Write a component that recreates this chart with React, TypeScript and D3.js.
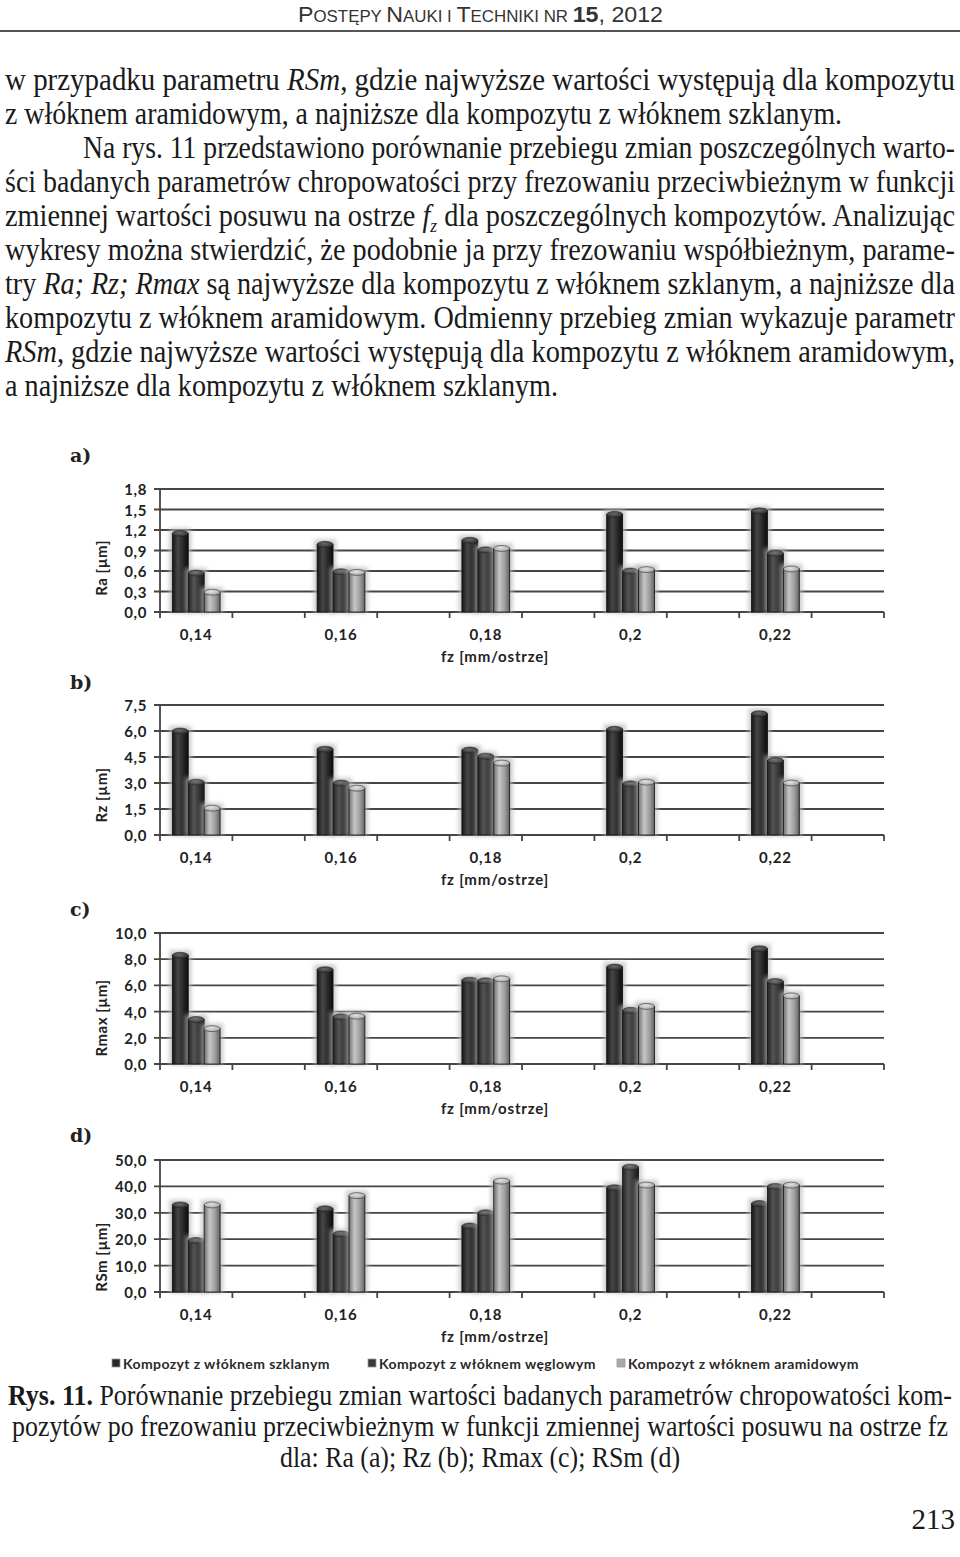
import React from "react";
import * as d3 from "d3";

const categories = ["0,14", "0,16", "0,18", "0,2", "0,22"];
const seriesNames = [
  "Kompozyt z włóknem szklanym",
  "Kompozyt z włóknem węglowym",
  "Kompozyt z włóknem aramidowym",
];

const raGlass = [1.15, 0.99, 1.05, 1.43, 1.48];
const raCarbon = [0.57, 0.59, 0.91, 0.6, 0.86];
const raAramid = [0.29, 0.58, 0.93, 0.62, 0.63];

const rzGlass = [6.0, 4.95, 4.9, 6.1, 7.0];
const rzCarbon = [3.05, 3.0, 4.55, 2.95, 4.3];
const rzAramid = [1.55, 2.7, 4.15, 3.05, 3.0];

const rmaxGlass = [8.3, 7.2, 6.4, 7.4, 8.8];
const rmaxCarbon = [3.4, 3.6, 6.35, 4.1, 6.3];
const rmaxAramid = [2.7, 3.65, 6.5, 4.4, 5.2];

const rsmGlass = [33, 31.5, 25, 39.5, 33.5];
const rsmCarbon = [19.5, 22, 30, 47.3, 40];
const rsmAramid = [33, 36.5, 42, 40.5, 40.5];

const panelTags = ["a)", "b)", "c)", "d)"];
const yTitles = ["Ra [µm]", "Rz [µm]", "Rmax [µm]", "RSm [µm]"];
const yMax = [1.8, 7.5, 10, 50];
const yStep = [0.3, 1.5, 2, 10];
const xTitle = "fz [mm/ostrze]";

const panelData = [
  [raGlass, raCarbon, raAramid],
  [rzGlass, rzCarbon, rzAramid],
  [rmaxGlass, rmaxCarbon, rmaxAramid],
  [rsmGlass, rsmCarbon, rsmAramid],
];

const fmt = (v: number) => d3.format(".1f")(v).replace(".", ",");

const layout = [
  { tagY: 462, top: 489, bottom: 612, titleY: 568 },
  { tagY: 689, top: 705, bottom: 835, titleY: 795 },
  { tagY: 916, top: 933, bottom: 1064, titleY: 1018 },
  { tagY: 1142, top: 1160, bottom: 1292, titleY: 1257 },
];

const barGrad = [
  ["#151515", "#474747", "#262626", "#0c0c0c"],
  ["#222222", "#555555", "#333333", "#181818"],
  ["#707070", "#c6c6c6", "#9c9c9c", "#626262"],
];
const capColor = ["#6a6a6a", "#787878", "#e2e2e2"];
const legendColor = ["#2a2a2a", "#3a3a3a", "#a8a8a8"];

const chartFont = "Lato, 'Open Sans', sans-serif";
const bodyFont: React.CSSProperties = {
  fontFamily: "'Liberation Serif', 'Times New Roman', serif",
  fontSize: 31,
  fill: "#1a1a1a",
};
const capFont: React.CSSProperties = { ...bodyFont, fontSize: 29 };

function Panel({ idx }: { idx: number }) {
  const L = layout[idx];
  const x0 = 160;
  const x1 = 884;
  const slots = d3.range(categories.length * 2);
  const xSlot = d3.scaleBand<number>().domain(slots).range([x0, x1]);
  const bw = xSlot.bandwidth();
  const xSer = d3
    .scaleBand<number>()
    .domain([0, 1, 2])
    .range([0.17 * bw, 0.83 * bw]);
  const y = d3.scaleLinear().domain([0, yMax[idx]]).range([L.bottom, L.top]);
  const ticks = d3.range(0, yMax[idx] + yStep[idx] / 2, yStep[idx]);
  const data = panelData[idx];
  const labelStyle: React.CSSProperties = {
    fontFamily: chartFont,
    fontWeight: 700,
    fontSize: 15,
    letterSpacing: 0.8,
    fill: "#222",
  };
  return (
    <g>
      <text
        x={70}
        y={L.tagY}
        style={{
          fontFamily: "'DejaVu Serif', 'Liberation Serif', serif",
          fontWeight: 700,
          fontSize: 19,
          fill: "#222",
        }}
      >
        {panelTags[idx]}
      </text>
      {ticks.map((t, i) => (
        <g key={i}>
          <line x1={x0 - 6} x2={x1} y1={y(t)} y2={y(t)} stroke="#454545" strokeWidth={1.8} />
          <text
            x={147}
            y={y(t)}
            textAnchor="end"
            dominantBaseline="central"
            style={{ ...labelStyle, letterSpacing: 0.6 }}
          >
            {fmt(t)}
          </text>
        </g>
      ))}
      <line x1={x0} x2={x0} y1={L.top} y2={L.bottom} stroke="#454545" strokeWidth={1.8} />
      {d3.range(slots.length + 1).map((k) => {
        const xx = x0 + k * bw;
        return (
          <line key={k} x1={xx} x2={xx} y1={L.bottom} y2={L.bottom + 6} stroke="#454545" strokeWidth={1.8} />
        );
      })}
      {categories.map((c, ci) => {
        const sx = xSlot(ci * 2)!;
        return (
          <g key={c}>
            {data.map((series, si) => {
              const v = series[ci];
              const bx = sx + xSer(si)!;
              const w = xSer.bandwidth();
              const by = y(v);
              const h = L.bottom - by;
              return (
                <g key={si}>
                  <rect
                    x={bx - 3}
                    y={by - 5}
                    width={w + 6}
                    height={h + 6}
                    fill="#b8b8b8"
                    opacity={0.75}
                    filter="url(#glow)"
                  />
                  <rect x={bx} y={by} width={w} height={h} fill={`url(#bar${si})`} stroke="#111" strokeWidth={0.8} />
                  <ellipse
                    cx={bx + w / 2}
                    cy={by}
                    rx={w / 2}
                    ry={3}
                    fill={`url(#cap${si})`}
                    stroke="#222"
                    strokeWidth={0.5}
                  />
                </g>
              );
            })}
            <text x={sx + bw / 2} y={L.bottom + 22} textAnchor="middle" dominantBaseline="central" style={labelStyle}>
              {c}
            </text>
          </g>
        );
      })}
      <text x={495} y={L.bottom + 44} textAnchor="middle" dominantBaseline="central" style={labelStyle}>
        {xTitle}
      </text>
      <text
        transform={`translate(101,${L.titleY}) rotate(-90)`}
        textAnchor="middle"
        dominantBaseline="central"
        style={{ ...labelStyle, letterSpacing: 0.5 }}
      >
        {yTitles[idx]}
      </text>
    </g>
  );
}

export default function App() {
  const legendX = [112, 368, 617];
  return (
    <svg
      width={960}
      height={1557}
      viewBox="0 0 960 1557"
      style={{ position: "absolute", left: 0, top: 0, display: "block", background: "#fff" }}
    >
      <defs>
        <filter id="glow" x="-50%" y="-20%" width="200%" height="140%">
          <feGaussianBlur stdDeviation={2} />
        </filter>
        {barGrad.map((g, i) => (
          <linearGradient key={i} id={`bar${i}`} x1="0" x2="1" y1="0" y2="0">
            <stop offset="0%" stopColor={g[0]} />
            <stop offset="35%" stopColor={g[1]} />
            <stop offset="70%" stopColor={g[2]} />
            <stop offset="100%" stopColor={g[3]} />
          </linearGradient>
        ))}
        {capColor.map((c, i) => (
          <radialGradient key={i} id={`cap${i}`} cx="45%" cy="40%" r="70%">
            <stop offset="0%" stopColor={c} />
            <stop offset="100%" stopColor={barGrad[i][2]} />
          </radialGradient>
        ))}
      </defs>

      {/* running header */}
      <text
        x={298}
        y={22}
        textLength={365}
        lengthAdjust="spacingAndGlyphs"
        style={{ fontFamily: "'Liberation Sans Narrow', 'Liberation Sans', Arial, sans-serif", fontSize: 22, fill: "#333" }}
      >
        P<tspan fontSize={16}>OSTĘPY </tspan>N<tspan fontSize={16}>AUKI I </tspan>T<tspan fontSize={16}>ECHNIKI NR </tspan>
        <tspan fontWeight={700}>15</tspan>, 2012
      </text>
      <line x1={0} x2={960} y1={31} y2={31} stroke="#555" strokeWidth={2} />

      {/* body text */}
      <text x={5} y={90} textLength={950} lengthAdjust="spacingAndGlyphs" style={bodyFont}>
        {"w przypadku parametru "}<tspan fontStyle="italic">RSm</tspan>{", gdzie najwyższe wartości występują dla kompozytu"}
      </text>
      <text x={5} y={124} textLength={837} lengthAdjust="spacingAndGlyphs" style={bodyFont}>
        {"z włóknem aramidowym, a najniższe dla kompozytu z włóknem szklanym."}
      </text>
      <text x={83} y={158} textLength={872} lengthAdjust="spacingAndGlyphs" style={bodyFont}>
        {"Na rys. 11 przedstawiono porównanie przebiegu zmian poszczególnych warto-"}
      </text>
      <text x={5} y={192} textLength={950} lengthAdjust="spacingAndGlyphs" style={bodyFont}>
        {"ści badanych parametrów chropowatości przy frezowaniu przeciwbieżnym w funkcji"}
      </text>
      <text x={5} y={226} textLength={950} lengthAdjust="spacingAndGlyphs" style={bodyFont}>
        {"zmiennej wartości posuwu na ostrze "}<tspan fontStyle="italic">f</tspan>
        <tspan fontStyle="italic" fontSize={19} dy={6}>z</tspan>
        <tspan dy={-6}>{" dla poszczególnych kompozytów. Analizując"}</tspan>
      </text>
      <text x={5} y={260} textLength={950} lengthAdjust="spacingAndGlyphs" style={bodyFont}>
        {"wykresy można stwierdzić, że podobnie ja przy frezowaniu współbieżnym, parame-"}
      </text>
      <text x={5} y={294} textLength={950} lengthAdjust="spacingAndGlyphs" style={bodyFont}>
        {"try "}<tspan fontStyle="italic">Ra; Rz; Rmax</tspan>{" są najwyższe dla kompozytu z włóknem szklanym, a najniższe dla"}
      </text>
      <text x={5} y={328} textLength={950} lengthAdjust="spacingAndGlyphs" style={bodyFont}>
        {"kompozytu z włóknem aramidowym. Odmienny przebieg zmian wykazuje parametr"}
      </text>
      <text x={5} y={362} textLength={950} lengthAdjust="spacingAndGlyphs" style={bodyFont}>
        <tspan fontStyle="italic">RSm</tspan>{", gdzie najwyższe wartości występują dla kompozytu z włóknem aramidowym,"}
      </text>
      <text x={5} y={396} textLength={553} lengthAdjust="spacingAndGlyphs" style={bodyFont}>
        {"a najniższe dla kompozytu z włóknem szklanym."}
      </text>

      {/* charts */}
      {[0, 1, 2, 3].map((i) => (
        <Panel key={i} idx={i} />
      ))}

      {/* legend */}
      {seriesNames.map((n, i) => (
        <g key={n}>
          <rect x={legendX[i]} y={1359} width={8} height={8} fill={legendColor[i]} stroke="#999" strokeWidth={0.8} />
          <text
            x={legendX[i] + 11}
            y={1363}
            dominantBaseline="central"
            style={{ fontFamily: chartFont, fontWeight: 700, fontSize: 14, letterSpacing: 0.4, fill: "#2a2a2a" }}
          >
            {n}
          </text>
        </g>
      ))}

      {/* caption */}
      <text x={8} y={1405} textLength={944} lengthAdjust="spacingAndGlyphs" style={capFont}>
        <tspan fontWeight={700}>Rys. 11.</tspan>{" Porównanie przebiegu zmian wartości badanych parametrów chropowatości kom-"}
      </text>
      <text x={12} y={1436} textLength={936} lengthAdjust="spacingAndGlyphs" style={capFont}>
        {"pozytów po frezowaniu przeciwbieżnym w funkcji zmiennej wartości posuwu na ostrze fz"}
      </text>
      <text x={280} y={1467} textLength={400} lengthAdjust="spacingAndGlyphs" style={capFont}>
        {"dla: Ra (a); Rz (b); Rmax (c); RSm (d)"}
      </text>

      <text x={955} y={1529} textAnchor="end" style={capFont}>
        213
      </text>
    </svg>
  );
}
